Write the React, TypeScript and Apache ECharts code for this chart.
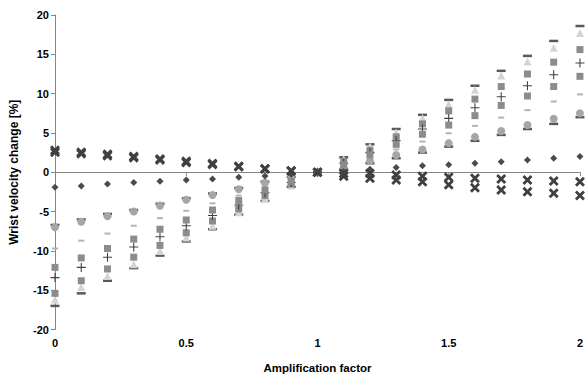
import React, { useEffect, useRef } from "react";
import * as echarts from "echarts";

const xs = [0, 0.1, 0.2, 0.3, 0.4, 0.5, 0.6, 0.7, 0.8, 0.9, 1.0, 1.1, 1.2, 1.3, 1.4, 1.5, 1.6, 1.7, 1.8, 1.9, 2.0];

const diamondVals = [-1.9, -1.74, -1.5, -1.3, -1.15, -1.0, -0.85, -0.64, -0.47, -0.25, 0, 0.1, 0.38, 0.6, 0.84, 0.95, 1.14, 1.35, 1.56, 1.78, 1.99];
const xUpperVals = [2.55, 2.35, 2.1, 1.85, 1.55, 1.25, 1.0, 0.7, 0.42, 0.17, 0, -0.15, -0.15, -0.35, -0.5, -0.65, -0.76, -0.85, -0.98, -1.1, -1.2];
const xLowerVals = [2.8, 2.55, 2.3, 2.0, 1.7, 1.4, 1.1, 0.75, 0.45, 0.2, 0, -0.5, -0.76, -0.98, -1.2, -1.6, -1.96, -2.25, -2.47, -2.67, -2.97];
const circleVals = [-7.0, -6.3, -5.6, -5.0, -4.25, -3.5, -2.9, -2.17, -1.32, -0.7, 0, 0.5, 1.44, 2.2, 2.9, 3.7, 4.5, 5.25, 6.0, 6.8, 7.5];
const darkDashLowVals = [-6.7, -6.0, -5.3, -4.8, -4.0, -3.3, -2.7, -2.0, -1.2, -0.6, 0, 0.4, 1.14, 1.78, 2.5, 3.26, 4.0, 4.75, 5.5, 6.15, 7.0];
const lightDashVals = [-9.7, -8.7, -7.8, -6.8, -5.85, -4.9, -3.95, -2.97, -1.9, -1.0, 0, 0.7, 1.86, 2.9, 3.9, 4.96, 5.9, 6.95, 7.9, 9.0, 9.9];
const squareAVals = [-12.1, -10.9, -9.7, -8.5, -7.25, -6.07, -4.8, -3.6, -2.25, -1.15, 0, 0.93, 2.2, 3.55, 4.83, 6.0, 7.2, 8.5, 9.7, 10.9, 12.2];
const plusVals = [-13.4, -12.1, -10.8, -9.5, -8.2, -6.8, -5.5, -4.16, -2.6, -1.3, 0, 1.14, 2.5, 4.0, 5.5, 6.85, 8.2, 9.6, 11.0, 12.4, 13.9];
const squareBVals = [-15.4, -13.8, -12.3, -10.8, -9.3, -7.7, -6.2, -4.67, -2.97, -1.5, 0, 1.35, 2.8, 4.5, 6.15, 7.8, 9.3, 10.9, 12.5, 14.0, 15.6];
const triangleVals = [-16.2, -14.6, -13.2, -11.7, -10.0, -8.3, -6.8, -5.1, -3.3, -1.7, 0, 1.65, 3.26, 5.05, 6.9, 8.65, 10.5, 12.3, 14.1, 15.85, 17.7];
const darkDashTopVals = [-17.0, -15.4, -13.8, -12.2, -10.6, -8.8, -7.25, -5.4, -3.65, -1.85, 0, 1.9, 3.55, 5.5, 7.3, 9.2, 11.0, 12.9, 14.8, 16.7, 18.6];

const X_PATH = "path://M0,2L2,0L5,3L8,0L10,2L7,5L10,8L8,10L5,7L2,10L0,8L3,5Z";
const PLUS_PATH = "path://M4.4,0L5.6,0L5.6,4.4L10,4.4L10,5.6L5.6,5.6L5.6,10L4.4,10L4.4,5.6L0,5.6L0,4.4L4.4,4.4Z";

function pts(vals: number[]) {
  return xs.map((x, i) => [x, vals[i]]);
}

export default function App() {
  const ref = useRef<HTMLDivElement>(null);
  useEffect(() => {
    if (!ref.current) return;
    const chart = echarts.init(ref.current, undefined, { renderer: "svg" });
    const font = "'Liberation Sans', Arial, sans-serif";
    const mk = (name: string, vals: number[], symbol: string, size: any, color: string) => ({
      name,
      type: "scatter",
      data: pts(vals),
      symbol,
      symbolSize: size,
      itemStyle: { color, opacity: 1 },
      emphasis: { disabled: true },
    });
    chart.setOption({
      animation: false,
      grid: { left: 52.5, right: 3, top: 15, bottom: 49.5, containLabel: false },
      xAxis: {
        type: "value",
        min: 0,
        max: 2,
        interval: 0.5,
        name: "Amplification factor",
        nameLocation: "middle",
        nameGap: 32,
        nameTextStyle: { fontFamily: font, fontWeight: "bold", fontSize: 11.5, color: "#000" },
        axisLine: { show: true, lineStyle: { color: "#868686", width: 1 } },
        axisTick: { show: true, inside: false, length: 4, lineStyle: { color: "#868686" } },
        axisLabel: { fontFamily: font, fontWeight: "bold", fontSize: 11, color: "#000", margin: 8 },
        splitLine: { show: false },
      },
      yAxis: {
        type: "value",
        min: -20,
        max: 20,
        interval: 5,
        name: "Wrist velocity change [%]",
        nameLocation: "middle",
        nameGap: 35,
        nameRotate: 90,
        nameTextStyle: { fontFamily: font, fontWeight: "bold", fontSize: 12, color: "#000" },
        axisLine: { show: true, onZero: false, lineStyle: { color: "#868686", width: 1 } },
        axisTick: { show: true, inside: false, length: 4, lineStyle: { color: "#868686" } },
        axisLabel: { fontFamily: font, fontWeight: "bold", fontSize: 11, color: "#000", margin: 6 },
        splitLine: { show: false },
      },
      series: [
        mk("Dark dash low", darkDashLowVals, "rect", [9, 2.5], "#595959"),
        mk("Circle", circleVals, "circle", 8, "#a6a6a6"),
        mk("Light dash", lightDashVals, "rect", [6, 2], "#b3b3b3"),
        mk("Dark dash top", darkDashTopVals, "rect", [9, 2.5], "#595959"),
        mk("Triangle", triangleVals, "triangle", 8, "#d4d4d4"),
        mk("Square B", squareBVals, "rect", 7, "#8c8c8c"),
        mk("Plus", plusVals, PLUS_PATH, 9, "#404040"),
        mk("Square A", squareAVals, "rect", 7, "#8c8c8c"),
        mk("Diamond", diamondVals, "diamond", 7, "#4a4a4a"),
        mk("X lower", xLowerVals, X_PATH, 10, "#404040"),
        mk("X upper", xUpperVals, X_PATH, 10, "#404040"),
      ],
    });
    return () => chart.dispose();
  }, []);
  return <div ref={ref} style={{ width: 586, height: 379, position: "absolute", left: 0, top: 0 }} />;
}
